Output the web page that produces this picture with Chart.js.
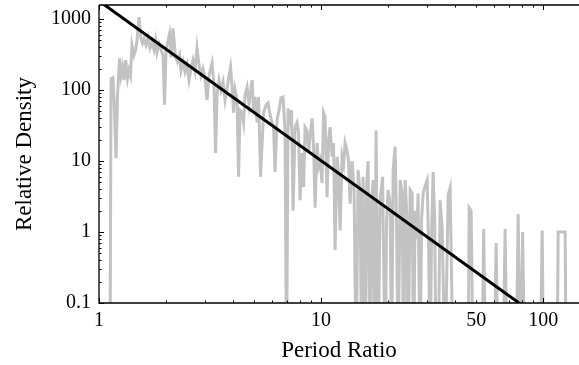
<!DOCTYPE html>
<html>
<head>
<meta charset="utf-8">
<script src="https://cdn.jsdelivr.net/npm/chart.js@4.4.1/dist/chart.umd.min.js"></script>
<style>
  html, body { margin: 0; padding: 0; background: #fff; }
  canvas { display: block; }
</style>
</head>
<body>
<canvas id="densityChart" width="579" height="365"></canvas>
<script>
// Histogram of period ratios; 0.01 = empty bin, falls below the axis
const periodRatio = [
  1.121, 1.133, 1.156, 1.168, 1.193, 1.211, 1.237, 1.256, 1.276, 1.296,
  1.319, 1.344, 1.365, 1.386, 1.408, 1.438, 1.463, 1.483, 1.514, 1.541,
  1.570, 1.595, 1.628, 1.663, 1.697, 1.733, 1.769, 1.797, 1.825, 1.863,
  1.902, 1.942, 1.972, 2.004, 2.046, 2.078, 2.111, 2.154, 2.211, 2.257,
  2.305, 2.341, 2.390, 2.440, 2.491, 2.543, 2.596, 2.651, 2.706, 2.763,
  2.821, 2.880, 2.940, 3.002, 3.065, 3.129, 3.228, 3.296, 3.348, 3.400,
  3.471, 3.544, 3.619, 3.695, 3.772, 3.851, 3.911, 3.973, 4.035, 4.100,
  4.185, 4.251, 4.316, 4.407, 4.476, 4.546, 4.642, 4.739, 4.814, 4.889,
  4.966, 5.044, 5.149, 5.231, 5.340, 5.508, 5.654, 5.771, 5.892, 6.015,
  6.109, 6.205, 6.332, 6.466, 6.601, 6.740, 6.881, 6.991, 7.101, 7.250,
  7.364, 7.480, 7.636, 7.797, 7.919, 8.043, 8.212, 8.341, 8.469, 8.647,
  8.783, 8.922, 9.109, 9.252, 9.397, 9.594, 9.743, 9.897, 10.10, 10.26,
  10.42, 10.64, 10.81, 10.98, 11.21, 11.38, 11.56, 11.81, 11.99, 12.18,
  12.43, 12.63, 12.83, 13.10, 13.30, 13.51, 13.79,
  14.08, 14.38, 14.68, 14.99, 15.23, 15.46, 15.79, 16.04, 16.28, 16.62,
  16.88, 17.15, 17.42, 17.69, 18.06, 18.44, 18.92, 19.43, 19.73, 20.04,
  20.46, 20.78, 21.11, 21.54, 21.88, 22.23, 22.70, 23.17, 23.53, 23.90,
  24.28, 24.66, 25.18, 25.70, 26.10, 26.51, 26.92, 27.35, 27.92, 28.36,
  28.81, 29.41, 30.03, 30.50, 30.97, 31.46, 31.96, 32.46, 32.97, 33.66,
  34.36, 35.08, 36.19, 37.34, 38.12, 39.33,
  45.95, 46.42, 47.39, 48.38, 53.12, 53.95, 55.08, 60.15, 61.41, 62.70,
  66.01, 67.40, 68.81, 75.56, 77.15, 78.77, 80.84, 82.53, 96.94, 98.97,
  100.5, 115.6, 116.8, 125.6, 126.9
];
const relDensity = [
  0.01, 145, 150, 80, 11, 80, 280, 160, 210, 138,
  265, 145, 190, 160, 430, 310, 370, 500, 1070, 550,
  460, 530, 430, 550, 390, 480, 370, 500, 340, 450,
  370, 310, 62, 370, 500, 620, 290, 740, 290, 250,
  310, 190, 250, 180, 225, 138, 200, 265, 190, 390,
  225, 160, 200, 145, 72, 160, 240, 115, 13, 85,
  138, 100, 130, 72, 105, 160, 210, 115, 48, 100,
  72, 6, 52, 48, 35, 85, 110, 62, 95, 138,
  52, 80, 35, 80, 6, 48, 62, 66, 45, 35,
  30, 7, 38, 52, 78, 80, 27, 0.01, 55, 38,
  52, 2.0, 30, 35, 25, 2.8, 13, 4.3, 30, 27,
  13, 22, 40, 16, 2.2, 18, 8.4, 10, 4.9, 48,
  42, 3.1, 20, 30, 11.5, 18, 0.56, 11.5, 6.3, 1.05,
  11.5, 9, 18, 14, 10, 2.5, 10,
  3.9, 0.01, 7.5, 3.5, 0.01, 6, 0.01, 4.5, 10, 0.01,
  2.5, 5.4, 0.01, 27, 0.01, 2.8, 6, 0.01, 1.5, 3.9,
  2.5, 0.01, 7.5, 16, 1.2, 0.01, 5.4, 3.5, 0.01, 5.4,
  2.0, 0.01, 3.9, 3.5, 0.01, 2.0, 0.8, 3.5, 0.01, 1.5,
  3.5, 4.5, 5.4, 0.6, 0.01, 1.0, 7, 1.5, 0.01, 0.01,
  2.8, 1.15, 0.01, 3.3, 4.2, 0.01,
  0.01, 2.2, 2.0, 0.01, 0.01, 1.1, 0.01, 0.01, 0.7, 0.01,
  0.01, 1.1, 0.01, 0.01, 1.8, 0.01, 1.0, 0.01, 0.01, 1.05,
  0.01, 0.01, 1.0, 1.0, 0.01
];

// Power-law fit, two end points
const fitRatio = [1, 100];
const fitDensity = [1800, 0.057];

// Axis ticks
const xMajor = [1, 10, 100];
const xMinor = [2, 3, 4, 5, 6, 7, 8, 9, 20, 30, 40, 50, 60, 70, 80, 90];
const xLabels = [1, 10, 50, 100];
const yMajor = [0.1, 1, 10, 100, 1000];
const yMinor = [0.2, 0.3, 0.4, 0.5, 0.6, 0.7, 0.8, 0.9, 2, 3, 4, 5, 6, 7, 8, 9,
  20, 30, 40, 50, 60, 70, 80, 90, 200, 300, 400, 500, 600, 700, 800, 900];

const serif = 'Liberation Serif';

// frame + inward tick marks (Mathematica style)
const frameTicks = {
    id: 'frameTicks',
    afterDraw(chart) {
        const { ctx, chartArea: a, scales: { x, y } } = chart;
        ctx.save();
        ctx.strokeStyle = '#000';
        ctx.lineWidth = 1.3;
        ctx.beginPath();
        ctx.moveTo(a.left, a.top);
        ctx.lineTo(a.right, a.top);
        ctx.moveTo(a.left, a.top);
        ctx.lineTo(a.left, a.bottom);
        ctx.lineTo(a.right, a.bottom);
        ctx.stroke();

        ctx.lineWidth = 1;
        ctx.beginPath();
        const xt = (v, len) => {
            const px = Math.round(x.getPixelForValue(v)) + 0.5;
            ctx.moveTo(px, a.bottom); ctx.lineTo(px, a.bottom - len);
            ctx.moveTo(px, a.top); ctx.lineTo(px, a.top + len);
        };
        const yt = (v, len) => {
            const py = Math.round(y.getPixelForValue(v)) + 0.5;
            ctx.moveTo(a.left, py); ctx.lineTo(a.left + len, py);
        };
        xMajor.forEach(v => xt(v, 5));
        xMinor.forEach(v => xt(v, 2.5));
        yMajor.forEach(v => yt(v, 5));
        yMinor.forEach(v => yt(v, 2.5));
        ctx.stroke();
        ctx.restore();
    }
};

const ctx = document.getElementById('densityChart').getContext('2d');
new Chart(ctx, {
    type: 'scatter',
    data: {
        datasets: [
            {
                label: 'Fit',
                data: fitRatio.map((r, i) => ({ x: r, y: fitDensity[i] })),
                showLine: true,
                borderColor: '#000000',
                borderWidth: 3,
                pointRadius: 0,
                clip: 0,
                order: 0
            },
            {
                label: 'Density',
                data: periodRatio.map((r, i) => ({ x: r, y: relDensity[i] })),
                showLine: true,
                borderColor: '#c2c2c2',
                borderWidth: 3,
                pointRadius: 0,
                tension: 0,
                clip: 0,
                order: 1
            }
        ]
    },
    options: {
        responsive: false,
        animation: false,
        layout: {
            padding: { top: 5, right: 0, left: 0, bottom: 0 }
        },
        plugins: {
            legend: { display: false },
            tooltip: { enabled: false }
        },
        scales: {
            x: {
                type: 'logarithmic',
                min: 1,
                max: 145,
                afterBuildTicks: s => { s.ticks = xLabels.map(v => ({ value: v })); },
                afterFit: s => { s.height = 62; s.paddingLeft = 0; s.paddingRight = 0; },
                grid: { display: false, drawTicks: false },
                border: { display: false },
                ticks: {
                    color: '#000',
                    padding: 6,
                    maxRotation: 0,
                    font: { family: serif, size: 20 },
                    callback: v => String(v)
                },
                title: {
                    display: true,
                    text: 'Period Ratio',
                    color: '#000',
                    font: { family: serif, size: 23 },
                    padding: { top: 0, bottom: 0 }
                }
            },
            y: {
                type: 'logarithmic',
                min: 0.1,
                max: 1580,
                afterBuildTicks: s => { s.ticks = yMajor.map(v => ({ value: v })); },
                afterFit: s => { s.width = 99; s.paddingTop = 0; s.paddingBottom = 0; },
                grid: { display: false, drawTicks: false },
                border: { display: false },
                ticks: {
                    color: '#000',
                    padding: 8,
                    font: { family: serif, size: 20 },
                    callback: v => String(v)
                },
                title: {
                    display: true,
                    text: 'Relative Density',
                    color: '#000',
                    font: { family: serif, size: 23 },
                    padding: { top: 11, bottom: 0 }
                }
            }
        }
    },
    plugins: [frameTicks]
});
</script>
</body>
</html>
